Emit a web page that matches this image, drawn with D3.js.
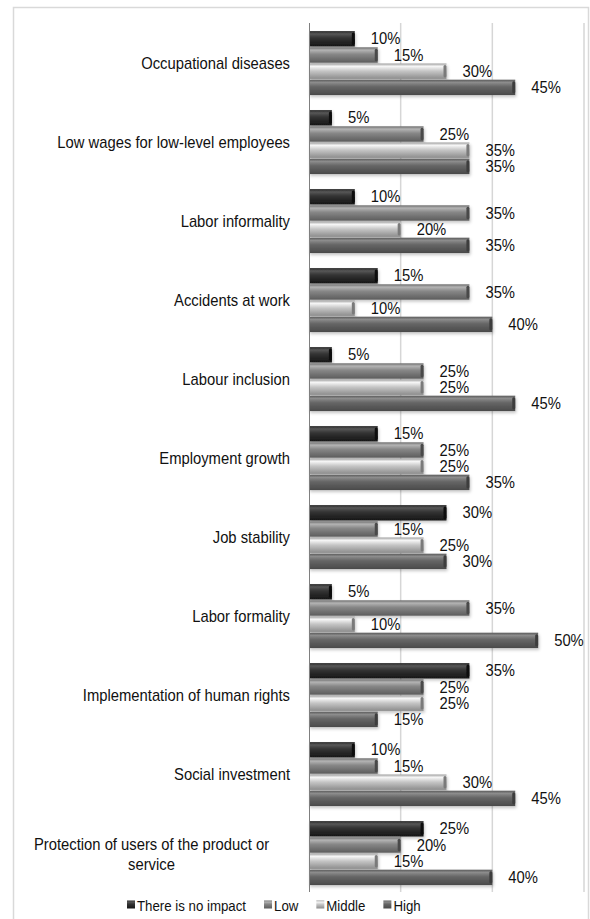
<!DOCTYPE html>
<html>
<head>
<meta charset="utf-8">
<script src="https://cdn.jsdelivr.net/npm/d3@7"></script>
<style>
  html, body { margin: 0; padding: 0; background: #fff; }
  svg { display: block; font-family: "Liberation Sans", Arial, sans-serif; }
</style>
</head>
<body>
<svg id="chart" width="590" height="919"></svg>
<script>
// ---- data ----
const categories = [
  "Occupational diseases",
  "Low wages for low-level employees",
  "Labor informality",
  "Accidents at work",
  "Labour inclusion",
  "Employment growth",
  "Job stability",
  "Labor formality",
  "Implementation of human rights",
  "Social investment",
  "Protection of users of the product or service"
];
const seriesNames = ["There is no impact", "Low", "Middle", "High"];
const noImpact = [10, 5, 10, 15, 5, 15, 30, 5, 35, 10, 25];
const low      = [15, 25, 35, 35, 25, 25, 15, 35, 25, 15, 20];
const middle   = [30, 35, 20, 10, 25, 25, 25, 10, 25, 30, 15];
const high     = [45, 35, 35, 40, 45, 35, 30, 50, 15, 45, 40];
const seriesValues = [noImpact, low, middle, high];
const gridTicks = [0.2, 0.4, 0.6];

// ---- styling ----
const gradStops = [
  [["0", "#262626"], ["0.18", "#575757"], ["0.45", "#333333"], ["1", "#161616"]],
  [["0", "#6c6c6c"], ["0.18", "#b4b4b4"], ["0.45", "#878787"], ["1", "#5c5c5c"]],
  [["0", "#9c9c9c"], ["0.18", "#f7f7f7"], ["0.5", "#c4c4c4"], ["1", "#8c8c8c"]],
  [["0", "#5a5a5a"], ["0.18", "#8c8c8c"], ["0.45", "#666666"], ["1", "#4a4a4a"]]
];
const capColors = ["#0e0e0e", "#4a4a4a", "#7a7a7a", "#3c3c3c"];
const SQ = 0.87; // horizontal squeeze of the (tall, narrow) reference lettering

// returns the squeezed width
function squeeze(sel, ratio) {
  let w = 0;
  sel.each(function() {
    const len = this.getComputedTextLength();
    w = len * ratio;
    d3.select(this).attr("textLength", w).attr("lengthAdjust", "spacingAndGlyphs");
  });
  return w;
}

const svg = d3.select("#chart");
const defs = svg.append("defs");

gradStops.forEach((stops, i) => {
  const g = defs.append("linearGradient")
    .attr("id", "grad" + i).attr("x1", 0).attr("y1", 0).attr("x2", 0).attr("y2", 1);
  stops.forEach(s => g.append("stop").attr("offset", s[0]).attr("stop-color", s[1]));
});
const sh = defs.append("filter").attr("id", "shadow")
  .attr("x", "-5%").attr("y", "-30%").attr("width", "115%").attr("height", "180%");
sh.append("feDropShadow").attr("dx", 1).attr("dy", 2).attr("stdDeviation", 1.6)
  .attr("flood-color", "#000").attr("flood-opacity", 0.22);

// outer frame
svg.append("rect").attr("x", 13.5).attr("y", 7.5).attr("width", 575).attr("height", 930)
  .attr("fill", "none").attr("stroke", "#d9d9d9").attr("stroke-width", 1.5);

const plot = { left: 309, right: 584, top: 24, bottom: 893 };

const x = d3.scaleLinear().domain([0, 0.6]).range([plot.left, plot.right]);
const y = d3.scaleBand().domain(categories).range([plot.top, plot.bottom])
  .paddingInner(0.18).paddingOuter(0.09);
const ySub = d3.scaleBand().domain(d3.range(seriesNames.length))
  .range([0, y.bandwidth()]).padding(0);

// gridlines
svg.append("g").selectAll("line").data(gridTicks).join("line")
  .attr("x1", d => x(d)).attr("x2", d => x(d))
  .attr("y1", plot.top - 1).attr("y2", plot.bottom - 1)
  .attr("stroke", "#d6d6d6").attr("stroke-width", 1.5);

// bars
const rows = [];
categories.forEach((c, ci) => {
  seriesValues.forEach((vals, si) => {
    rows.push({ cat: c, s: si, v: vals[ci] / 100 });
  });
});

const barG = svg.append("g");
const bh = ySub.bandwidth() - 0.8;
const bar = barG.selectAll("g").data(rows).join("g")
  .attr("filter", "url(#shadow)");
bar.append("rect")
  .attr("x", x(0))
  .attr("y", d => y(d.cat) + ySub(d.s))
  .attr("width", d => x(d.v) - x(0))
  .attr("height", bh)
  .attr("fill", d => "url(#grad" + d.s + ")");
bar.append("rect")
  .attr("x", d => x(d.v) - 3)
  .attr("y", d => y(d.cat) + ySub(d.s) + 1.5)
  .attr("width", 3)
  .attr("height", bh - 3)
  .attr("rx", 1.5)
  .attr("fill", d => capColors[d.s]);

// axis line (category axis)
svg.append("line")
  .attr("x1", plot.left + 0.5).attr("x2", plot.left + 0.5)
  .attr("y1", plot.top - 1).attr("y2", plot.bottom - 1)
  .attr("stroke", "#7f7f7f").attr("stroke-width", 1);

// value labels
const vl = svg.append("g").selectAll("text").data(rows).join("text")
  .attr("x", d => x(d.v) + 16)
  .attr("y", d => y(d.cat) + ySub(d.s) + ySub.bandwidth() / 2 - 1)
  .attr("dy", "0.36em")
  .attr("font-size", 17)
  .attr("fill", "#111")
  .text(d => Math.round(d.v * 100) + "%");
squeeze(vl, SQ);

// category labels via axis
const yAxis = d3.axisLeft(y).tickSize(0).tickPadding(19);
const axG = svg.append("g").attr("transform", `translate(${plot.left},0)`).call(yAxis);
axG.select(".domain").remove();
axG.selectAll("text").attr("font-size", 17).attr("fill", "#111")
  .attr("font-family", "Liberation Sans, Arial, sans-serif");

// wrap long labels: centered within label area
const labelLeft = 13, labelRight = plot.left - 19, maxW = 250 / SQ, lineH = 20;
axG.selectAll(".tick").each(function(d) {
  const tick = d3.select(this);
  const t = tick.select("text");
  if (t.node().getComputedTextLength() <= maxW) { squeeze(t, SQ); return; }
  const words = d.split(" ");
  const lines = [];
  let cur = [];
  words.forEach(w => {
    const trial = cur.concat(w).join(" ");
    t.text(trial);
    if (t.node().getComputedTextLength() > maxW && cur.length) {
      lines.push(cur.join(" "));
      cur = [w];
    } else cur.push(w);
  });
  lines.push(cur.join(" "));
  t.remove();
  const cx = (labelLeft + labelRight) / 2 - plot.left;
  lines.forEach((ln, i) => {
    const tt = tick.append("text")
      .attr("x", cx)
      .attr("y", (i - (lines.length - 1) / 2) * lineH)
      .attr("dy", "0.36em")
      .attr("text-anchor", "middle")
      .attr("font-size", 17).attr("fill", "#111")
      .text(ln);
    squeeze(tt, SQ);
  });
});

// legend
const legend = svg.append("g").attr("transform", "translate(127,905)");
let lx = 0;
seriesNames.forEach((name, i) => {
  const g = legend.append("g").attr("transform", `translate(${lx},0)`);
  g.append("rect").attr("x", 0).attr("y", -4.5).attr("width", 8).attr("height", 8)
    .attr("fill", "url(#grad" + i + ")");
  const t = g.append("text").attr("x", 10).attr("y", 0).attr("dy", "0.36em")
    .attr("font-size", 15.5).attr("fill", "#111").text(name);
  const w = squeeze(t, 0.855);
  lx += 10 + w + 18;
});
</script>
</body>
</html>
